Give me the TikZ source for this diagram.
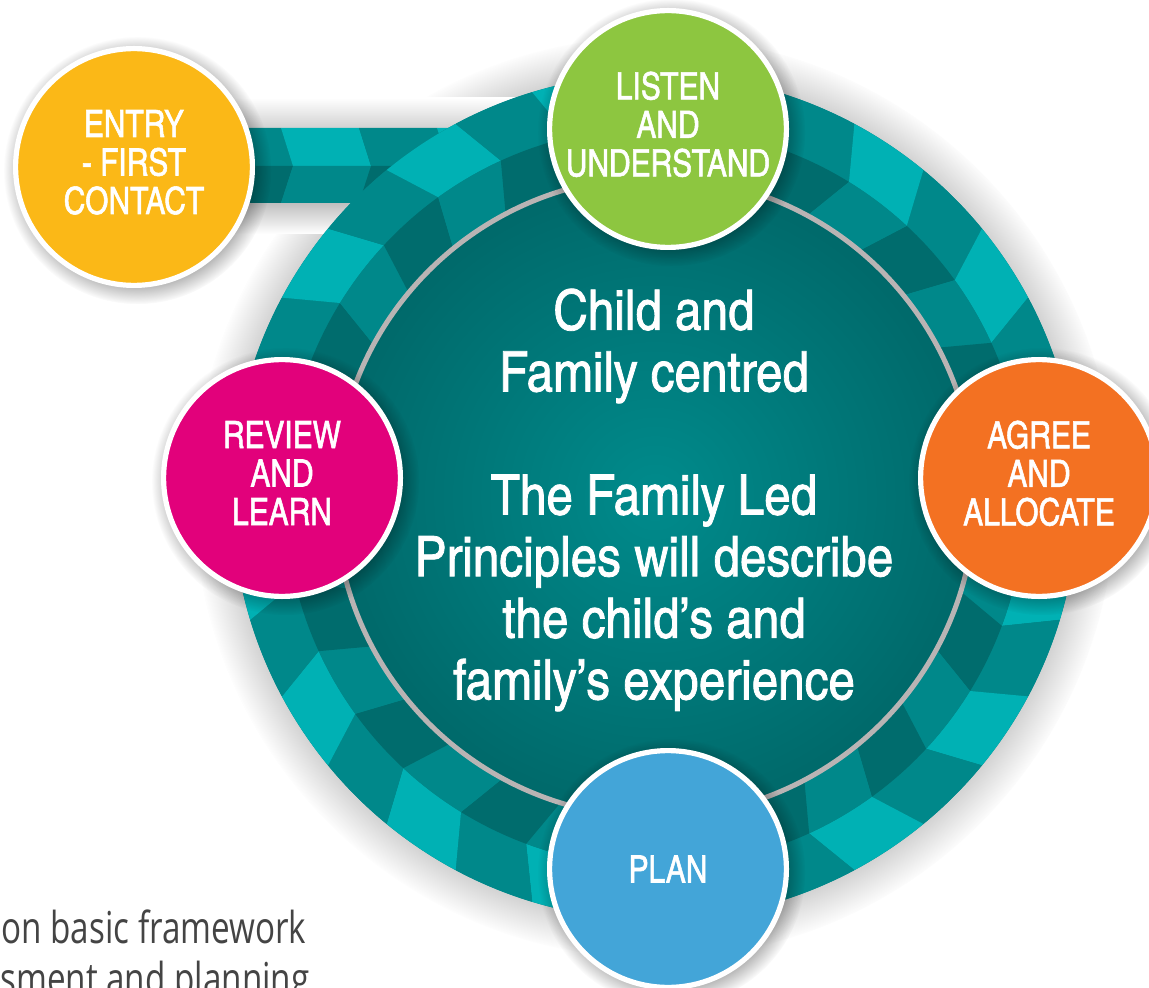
\documentclass[tikz,border=0pt]{standalone}
\usepackage{fontspec}
\usetikzlibrary{shadows}
\usetikzlibrary{fadings}
\usetikzlibrary{positioning}

\newfontfamily\condfont{texgyreheroscn}[Extension=.otf,UprightFont=*-regular,FakeBold=1.4,FakeStretch=0.97]
\newfontfamily\centrefont{texgyreheroscn}[Extension=.otf,UprightFont=*-regular,FakeBold=1.4,FakeStretch=1.04]
\newfontfamily\notefont{Open Sans}[FakeStretch=0.755]

\definecolor{EntryYellow}{HTML}{FBB817}
\definecolor{ListenGreen}{HTML}{8DC640}
\definecolor{AgreeOrange}{HTML}{F37122}
\definecolor{PlanBlue}{HTML}{43A5D8}
\definecolor{ReviewPink}{HTML}{E2017B}
\definecolor{TealLight}{HTML}{00B1B4}
\definecolor{TealMid}{HTML}{00888A}
\definecolor{TealDark}{HTML}{006C6D}
\definecolor{DiscLight}{HTML}{008B8C}
\definecolor{DiscDark}{HTML}{00696A}
\definecolor{RimGray}{HTML}{B9B4B4}
\definecolor{NoteGray}{HTML}{444444}

% pushes a stage label a little above the disc centre
\newcommand{\lift}{\rule[-5pt]{0pt}{5pt}}

\tikzset{
  % one pixel of the layout is half a point, y runs downwards
  px/.style={x=.5pt,y=-.5pt},
  % coloured stage discs round the ring
  stage/.style={
    circle,draw=white,line width=2.6pt,fill=#1,
    minimum size=118.4pt,inner sep=0pt,
    text=white,align=center,
    font=\condfont\fontsize{18.8}{19.25}\selectfont,
    circular drop shadow={fill=black,opacity=.3,shadow scale=1.13,
      shadow xshift=1.5pt,shadow yshift=-1.5pt},
  },
  centretext/.style={
    text=white,align=center,inner sep=0pt,
    font=\centrefont\fontsize{27.9}{30.8}\selectfont,
  },
  note/.style={
    text=NoteGray,inner sep=0pt,anchor=base west,
    font=\notefont\fontsize{22}{25.5}\selectfont,
  },
}

\begin{document}
\begin{tikzpicture}[px]
  \useasboundingbox (0,0) rectangle (1149,988);
  \clip (0,0) rectangle (1149,988);

  % halo behind the ring
  \begin{scope}[shift={(655,497)}]
    \path[circular glow={fill=black,opacity=.3,shadow scale=1.09}]
      (0,0) circle[radius=423];
  \end{scope}

  % band coming in from the entry disc
  \shade[top color=white,bottom color=black!18] (150,98) rectangle (525,128);
  \shade[top color=black!25,bottom color=white] (150,203) rectangle (365,234);
  \fill[TealMid] (130,128) rectangle (453,203);
  \foreach \x/\up/\down in {125/TealLight/TealMid,203/TealMid/TealDark,
      281/TealLight/TealMid,359/TealMid/TealDark,437/TealLight/TealMid} {
    \fill[fill=\up] (\x,128) -- (\x+78,128) -- (\x+90,166) -- (\x+12,166) -- cycle;
    \fill[fill=\down] (\x+12,166) -- (\x+90,166) -- (\x+78,203) -- (\x,203) -- cycle;
  }

  % the ring of chevrons and the centre disc
  \begin{scope}[shift={(655,497)}]
    \fill[TealMid] (0,0) circle[radius=423];
    \foreach \k in {0,...,31} {
      \pgfmathsetmacro{\a}{-50.625+11.25*\k}
      \pgfmathsetmacro{\b}{\a+11.25}
      \pgfmathsetmacro{\at}{\a+3.5}
      \pgfmathsetmacro{\bt}{\b+3.5}
      \ifodd\k
        \def\outc{TealLight}\def\inc{TealMid}
      \else
        \def\outc{TealMid}\def\inc{TealDark}
      \fi
      \fill[fill=\outc] (\at:370) -- (\a:423) arc[start angle=\a,end angle=\b,radius=423]
        -- (\bt:370) arc[start angle=\bt,end angle=\at,radius=370] -- cycle;
      \fill[fill=\inc] (\a:316) -- (\at:370) arc[start angle=\at,end angle=\bt,radius=370]
        -- (\b:316) arc[start angle=\b,end angle=\a,radius=316] -- cycle;
    }
    \shadedraw[inner color=DiscLight,outer color=DiscDark,draw=RimGray,line width=2.5pt]
      (0,0) circle[radius=320];
  \end{scope}

  % stages
  \node[stage=EntryYellow] (entry) at (134,167) {ENTRY\\- FIRST\\CONTACT\lift};
  \node[stage=ListenGreen] (listen) at (668,129) {LISTEN\\AND\\UNDERSTAND\lift};
  \node[stage=AgreeOrange] (agree) at (1039,478) {AGREE\\AND\\ALLOCATE\lift};
  \node[stage=PlanBlue] (plan) at (668,869) {PLAN};
  \node[stage=ReviewPink] (review) at (282,478) {REVIEW\\AND\\LEARN\lift};

  \node[centretext] (centre) at (654,500)
    {Child and\\Family centred\\[30.8pt]The Family Led\\Principles will describe\\the child’s and\\family’s experience};

  % caption cut by the page edge
  \node[note] (note1) at (1,943) {on basic framework};
  \node[note] (note2) at (0,994) {sment and planning};
\end{tikzpicture}
\end{document}
